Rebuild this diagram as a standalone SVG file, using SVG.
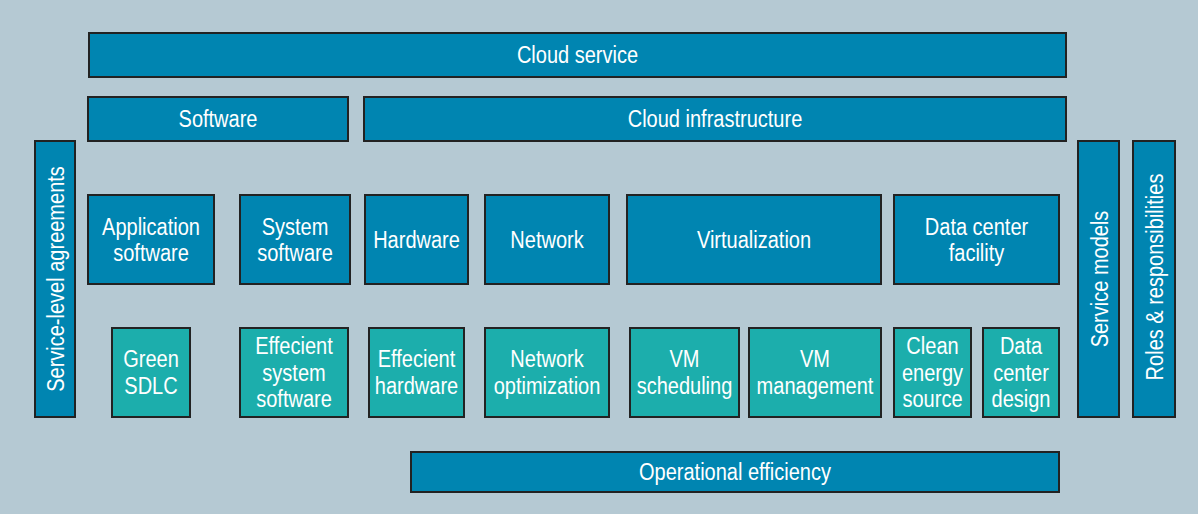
<svg xmlns="http://www.w3.org/2000/svg" width="1198" height="514" viewBox="0 0 1198 514">
<style>
.b{fill:#0085b1;stroke:#222;stroke-width:2}
.t{fill:#1caeac;stroke:#222;stroke-width:2}
text{font-family:"Liberation Sans",Arial,sans-serif;font-size:23px;fill:#fff;text-anchor:middle;dominant-baseline:central}
</style>
<rect width="1198" height="514" fill="#b5c9d3"/>
<g id="cloud-service"><rect class="b" x="89" y="33" width="977" height="44"/><text transform="translate(577.5 55) scale(.87 1)">Cloud service</text></g>
<g id="software"><rect class="b" x="88" y="97" width="260" height="44"/><text transform="translate(218 119) scale(.87 1)">Software</text></g>
<g id="cloud-infrastructure"><rect class="b" x="364" y="97" width="702" height="44"/><text transform="translate(715 119) scale(.87 1)">Cloud infrastructure</text></g>
<g id="sla"><rect class="b" x="35" y="141" width="40" height="276"/><text transform="translate(56 279) rotate(-90) scale(.87 1)">Service-level agreements</text></g>
<g id="service-models"><rect class="b" x="1078" y="141" width="41" height="276"/><text transform="translate(1099.5 279) rotate(-90) scale(.87 1)">Service models</text></g>
<g id="roles"><rect class="b" x="1133" y="141" width="42" height="276"/><text transform="translate(1155 277) rotate(-90) scale(.87 1)">Roles &amp; responsibilities</text></g>
<g id="application-software"><rect class="b" x="88" y="195" width="126" height="89"/><text transform="translate(151 226.5) scale(.87 1)">Application</text><text transform="translate(151 253) scale(.87 1)">software</text></g>
<g id="system-software"><rect class="b" x="240" y="195" width="110" height="89"/><text transform="translate(295 226.5) scale(.87 1)">System</text><text transform="translate(295 253) scale(.87 1)">software</text></g>
<g id="hardware"><rect class="b" x="365" y="195" width="103" height="89"/><text transform="translate(416.5 240) scale(.87 1)">Hardware</text></g>
<g id="network"><rect class="b" x="485" y="195" width="124" height="89"/><text transform="translate(547 240) scale(.87 1)">Network</text></g>
<g id="virtualization"><rect class="b" x="627" y="195" width="254" height="89"/><text transform="translate(754 240) scale(.87 1)">Virtualization</text></g>
<g id="data-center-facility"><rect class="b" x="894" y="195" width="165" height="89"/><text transform="translate(976.5 226.5) scale(.87 1)">Data center</text><text transform="translate(976.5 253) scale(.87 1)">facility</text></g>
<g id="green-sdlc"><rect class="t" x="112" y="328" width="78" height="89"/><text transform="translate(151 359) scale(.87 1)">Green</text><text transform="translate(151 385.5) scale(.87 1)">SDLC</text></g>
<g id="efficient-system-software"><rect class="t" x="240" y="328" width="108" height="89"/><text transform="translate(294 346) scale(.87 1)">Effecient</text><text transform="translate(294 372.5) scale(.87 1)">system</text><text transform="translate(294 399) scale(.87 1)">software</text></g>
<g id="efficient-hardware"><rect class="t" x="369" y="328" width="95" height="89"/><text transform="translate(416.5 359) scale(.87 1)">Effecient</text><text transform="translate(416.5 385.5) scale(.87 1)">hardware</text></g>
<g id="network-optimization"><rect class="t" x="485" y="328" width="124" height="89"/><text transform="translate(547 359) scale(.87 1)">Network</text><text transform="translate(547 385.5) scale(.87 1)">optimization</text></g>
<g id="vm-scheduling"><rect class="t" x="630" y="328" width="109" height="89"/><text transform="translate(684.5 359) scale(.87 1)">VM</text><text transform="translate(684.5 385.5) scale(.87 1)">scheduling</text></g>
<g id="vm-management"><rect class="t" x="749" y="328" width="132" height="89"/><text transform="translate(815 359) scale(.87 1)">VM</text><text transform="translate(815 385.5) scale(.87 1)">management</text></g>
<g id="clean-energy-source"><rect class="t" x="894" y="328" width="77" height="89"/><text transform="translate(932.5 346) scale(.87 1)">Clean</text><text transform="translate(932.5 372.5) scale(.87 1)">energy</text><text transform="translate(932.5 399) scale(.87 1)">source</text></g>
<g id="data-center-design"><rect class="t" x="983" y="328" width="76" height="89"/><text transform="translate(1021 346) scale(.87 1)">Data</text><text transform="translate(1021 372.5) scale(.87 1)">center</text><text transform="translate(1021 399) scale(.87 1)">design</text></g>
<g id="operational-efficiency"><rect class="b" x="411" y="452" width="648" height="40"/><text transform="translate(735 472) scale(.87 1)">Operational efficiency</text></g>
<g id="connectors"></g>
</svg>
